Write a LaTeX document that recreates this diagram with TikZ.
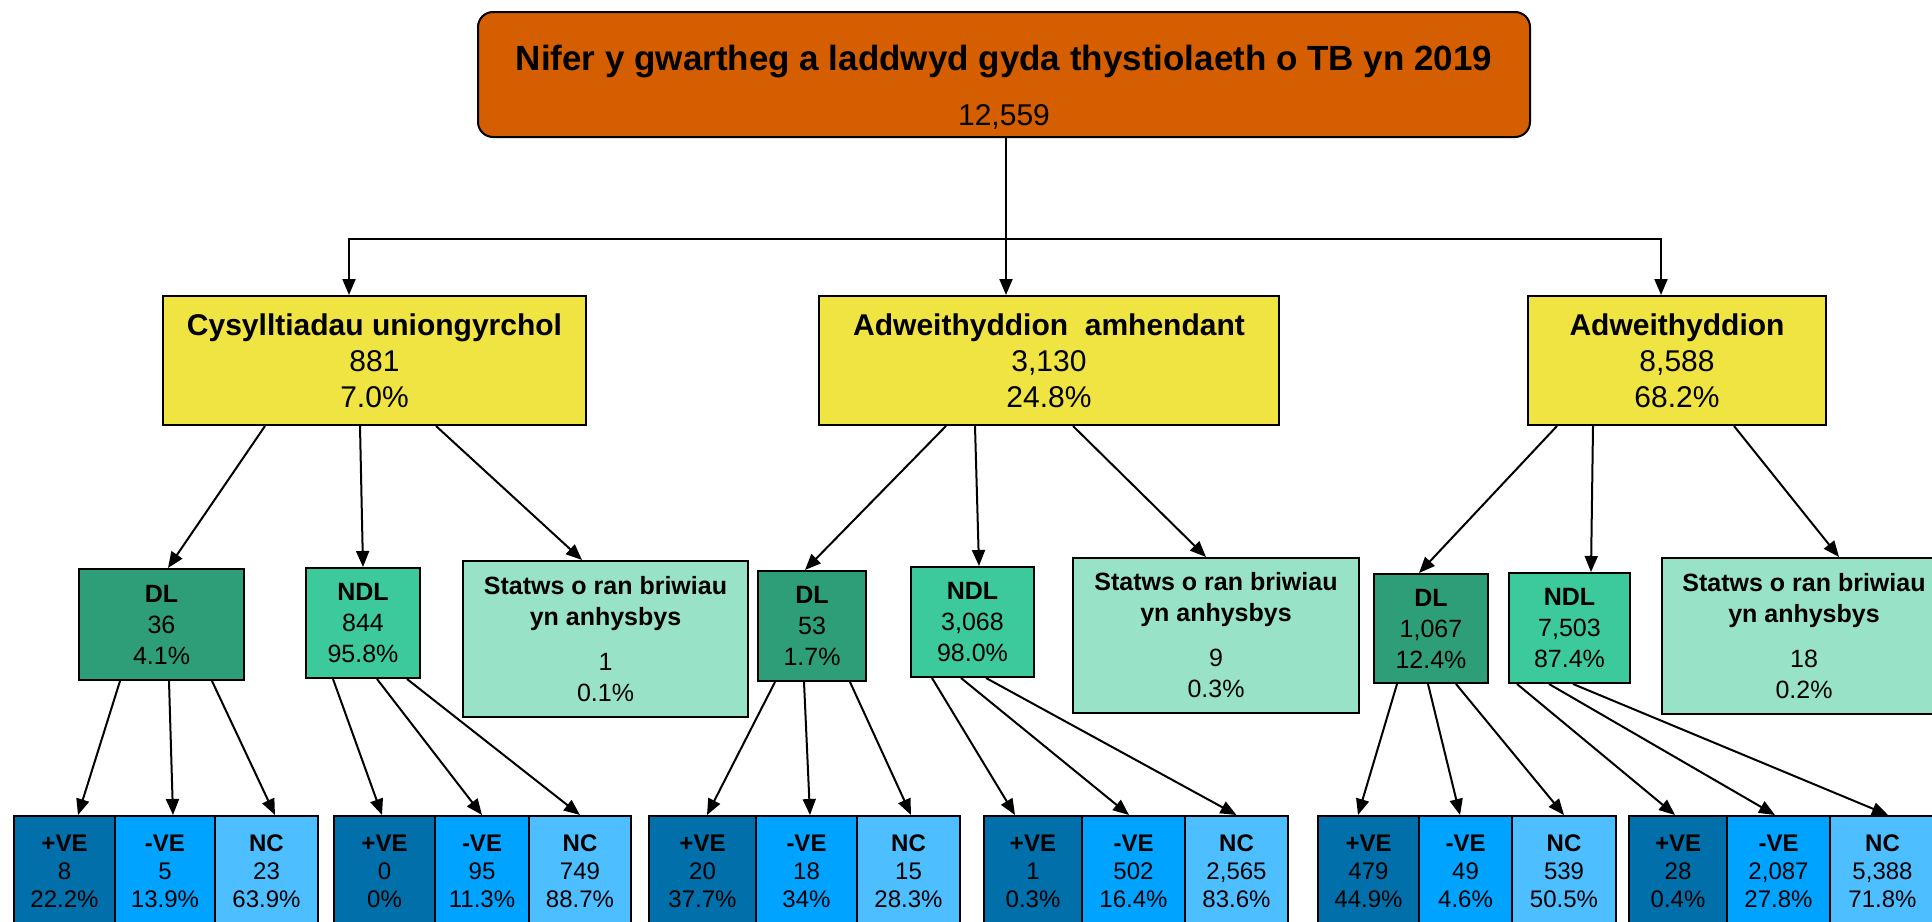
\documentclass[tikz,border=0pt]{standalone}
\usepackage{fontspec}
\setmainfont{Liberation Sans}
\usepackage{xcolor}
\usetikzlibrary{arrows.meta}
\definecolor{topor}{HTML}{D55E00}
\definecolor{catyel}{HTML}{F0E442}
\definecolor{dlgreen}{HTML}{2E9E78}
\definecolor{ndlgreen}{HTML}{3CC99B}
\definecolor{unkgreen}{HTML}{98E2C8}
\definecolor{posblue}{HTML}{006FAA}
\definecolor{negblue}{HTML}{00A3FF}
\definecolor{ncblue}{HTML}{4DBEFF}
\tikzstyle{topbox} = [draw, rounded corners=7.5pt, fill=topor,
    minimum width=526pt, minimum height=62.5pt, align=center,
    font=\fontsize{17.5}{21}\selectfont, line width=1pt, inner sep=0pt]
\tikzstyle{catbox} = [draw, fill=catyel, minimum height=64.5pt, align=center,
    font=\fontsize{15}{18}\selectfont, line width=1pt, inner sep=0pt]
\tikzstyle{dlbox} = [draw, fill=dlgreen, minimum height=55pt, align=center,
    font=\fontsize{12.5}{15.5}\selectfont, line width=1pt, inner sep=0pt]
\tikzstyle{ndlbox} = [draw, fill=ndlgreen, minimum height=55pt, align=center,
    font=\fontsize{12.5}{15.5}\selectfont, line width=1pt, inner sep=0pt]
\tikzstyle{unkbox} = [draw, fill=unkgreen, minimum height=78pt, align=center,
    font=\fontsize{12.5}{15.5}\selectfont, line width=1pt, inner sep=0pt]
\tikzstyle{cell} = [draw, minimum height=55pt, align=center,
    font=\fontsize{12}{14}\selectfont, line width=1pt, inner sep=0pt]
\tikzstyle{posbox} = [cell, fill=posblue]
\tikzstyle{negbox} = [cell, fill=negblue]
\tikzstyle{ncbox} = [cell, fill=ncblue]
\tikzstyle{arr} = [-{Triangle[length=8pt, width=6.5pt]}, line width=1pt, black]
\begin{document}
\begin{tikzpicture}[x=0.5pt, y=-0.5pt]
  \path[use as bounding box, clip] (0,0) rectangle (1932,921);
  \fill[white] (0,0) rectangle (1932,921);

  % Top: total
  \node[topbox] (total) at (1004,74.5) {\rule{0pt}{25.4pt}\textbf{Nifer y gwartheg a laddwyd gyda thystiolaeth o TB yn 2019}\\[6.5pt]{\fontsize{15}{18}\selectfont 12,559}};

  % Level 2: categories
  \node[catbox, minimum width=211.5pt] (direct) at (374.5,360.5) {\textbf{Cysylltiadau uniongyrchol}\\881\\7.0\%};
  \node[catbox, minimum width=230pt] (inconc) at (1049,360.5) {\textbf{Adweithyddion~ amhendant}\\3,130\\24.8\%};
  \node[catbox, minimum width=149pt] (react) at (1677,360.5) {\textbf{Adweithyddion}\\8,588\\68.2\%};

  % Level 3: lesion status
  \node[dlbox, minimum width=82.5pt, minimum height=55.5pt] (dlA) at (161.5,624.5) {\textbf{DL}\\36\\4.1\%};
  \node[ndlbox, minimum width=57pt] (ndlA) at (363,623) {\textbf{NDL}\\844\\95.8\%};
  \node[unkbox, minimum width=142.5pt] (unkA) at (605.5,639) {\textbf{Statws o ran briwiau}\\\textbf{yn anhysbys}\\[7pt]1\\0.1\%};

  \node[dlbox, minimum width=54pt] (dlB) at (812,626) {\textbf{DL}\\53\\1.7\%};
  \node[ndlbox, minimum width=61.5pt] (ndlB) at (972.5,622) {\textbf{NDL}\\3,068\\98.0\%};
  \node[unkbox, minimum width=143pt, minimum height=77.5pt] (unkB) at (1216,635.5) {\textbf{Statws o ran briwiau}\\\textbf{yn anhysbys}\\[7pt]9\\0.3\%};

  \node[dlbox, minimum width=57pt, minimum height=54.5pt] (dlC) at (1431,628.5) {\textbf{DL}\\1,067\\12.4\%};
  \node[ndlbox, minimum width=60.5pt] (ndlC) at (1569.5,628) {\textbf{NDL}\\7,503\\87.4\%};
  \node[unkbox, minimum width=142pt] (unkC) at (1804,636) {\textbf{Statws o ran briwiau}\\\textbf{yn anhysbys}\\[7pt]18\\0.2\%};

  % Level 4: results
  \node[posbox, minimum width=50.5pt] (dlApos) at (64.5,871) {\textbf{+VE}\\8\\22.2\%};
  \node[negbox, minimum width=50pt] (dlAneg) at (165,871) {\textbf{-VE}\\5\\13.9\%};
  \node[ncbox, minimum width=51.5pt] (dlAnc) at (266.5,871) {\textbf{NC}\\23\\63.9\%};

  \node[posbox, minimum width=50.5pt] (ndlApos) at (384.5,871) {\textbf{+VE}\\0\\0\%};
  \node[negbox, minimum width=47pt] (ndlAneg) at (482,871) {\textbf{-VE}\\95\\11.3\%};
  \node[ncbox, minimum width=51pt] (ndlAnc) at (580,871) {\textbf{NC}\\749\\88.7\%};

  \node[posbox, minimum width=53.5pt] (dlBpos) at (702.5,871) {\textbf{+VE}\\20\\37.7\%};
  \node[negbox, minimum width=50.5pt] (dlBneg) at (806.5,871) {\textbf{-VE}\\18\\34\%};
  \node[ncbox, minimum width=51.5pt] (dlBnc) at (908.5,871) {\textbf{NC}\\15\\28.3\%};

  \node[posbox, minimum width=49pt] (ndlBpos) at (1033,871) {\textbf{+VE}\\1\\0.3\%};
  \node[negbox, minimum width=51.5pt] (ndlBneg) at (1133.5,871) {\textbf{-VE}\\502\\16.4\%};
  \node[ncbox, minimum width=51.5pt] (ndlBnc) at (1236.5,871) {\textbf{NC}\\2,565\\83.6\%};

  \node[posbox, minimum width=50.5pt] (dlCpos) at (1368.5,871) {\textbf{+VE}\\479\\44.9\%};
  \node[negbox, minimum width=46.5pt] (dlCneg) at (1465.5,871) {\textbf{-VE}\\49\\4.6\%};
  \node[ncbox, minimum width=52pt] (dlCnc) at (1564,871) {\textbf{NC}\\539\\50.5\%};

  \node[posbox, minimum width=49pt] (ndlCpos) at (1678,871) {\textbf{+VE}\\28\\0.4\%};
  \node[negbox, minimum width=51.5pt] (ndlCneg) at (1778.5,871) {\textbf{-VE}\\2,087\\27.8\%};
  \node[ncbox, minimum width=52.5pt] (ndlCnc) at (1882.5,871) {\textbf{NC}\\5,388\\71.8\%};

  % Arrows: total to categories
  \coordinate (split) at (1006,239);
  \draw[arr] ([xshift=1pt]total.south) -- ([xshift=-21.5pt]inconc.north);
  \draw[arr] (split) -| ([xshift=-12.75pt]direct.north);
  \draw[arr] (split) -| ([xshift=-8pt]react.north);

  % Arrows: categories to lesion status
  \draw[arr] ([xshift=-54.75pt]direct.south) -- ([xshift=3.25pt]dlA.north);
  \draw[arr] ([xshift=-7.25pt]direct.south) -- (ndlA.north);
  \draw[arr] ([xshift=30.75pt]direct.south) -- ([xshift=-11.75pt]unkA.north);
  \draw[arr] ([xshift=-51.5pt]inconc.south) -- ([xshift=-3.5pt]dlB.north);
  \draw[arr] ([xshift=-37pt]inconc.south) -- ([xshift=3.25pt]ndlB.north);
  \draw[arr] ([xshift=12pt]inconc.south) -- ([xshift=-5pt]unkB.north);
  \draw[arr] ([xshift=-60pt]react.south) -- ([xshift=-6pt]dlC.north);
  \draw[arr] ([xshift=-42pt]react.south) -- ([xshift=10.75pt]ndlC.north);
  \draw[arr] ([xshift=28.5pt]react.south) -- ([xshift=17.5pt]unkC.north);

  % Arrows: lesion status to results
  \draw[arr] ([xshift=-20.75pt]dlA.south) -- ([xshift=6.75pt]dlApos.north);
  \draw[arr] ([xshift=3.75pt]dlA.south) -- ([xshift=4pt]dlAneg.north);
  \draw[arr] ([xshift=25.25pt]dlA.south) -- ([xshift=4.25pt]dlAnc.north);
  \draw[arr] ([xshift=-15pt]ndlA.south) -- ([xshift=-1.25pt]ndlApos.north);
  \draw[arr] ([xshift=7pt]ndlA.south) -- (ndlAneg.north);
  \draw[arr] ([xshift=22pt]ndlA.south) -- (ndlAnc.north);
  \draw[arr] ([xshift=-18.5pt]dlB.south) -- ([xshift=2.25pt]dlBpos.north);
  \draw[arr] ([xshift=-4pt]dlB.south) -- ([xshift=1.75pt]dlBneg.north);
  \draw[arr] ([xshift=19pt]dlB.south) -- ([xshift=1.25pt]dlBnc.north);
  \draw[arr] ([xshift=-20.25pt]ndlB.south) -- ([xshift=-9pt]ndlBpos.north);
  \draw[arr] ([xshift=-5.75pt]ndlB.south) -- ([xshift=-2.25pt]ndlBneg.north);
  \draw[arr] ([xshift=6.75pt]ndlB.south) -- (ndlBnc.north);
  \draw[arr] ([xshift=-17pt]dlC.south) -- ([xshift=-5.25pt]dlCpos.north);
  \draw[arr] ([xshift=-1.5pt]dlC.south) -- ([xshift=-2.75pt]dlCneg.north);
  \draw[arr] ([xshift=12.5pt]dlC.south) -- (dlCnc.north);
  \draw[arr] ([xshift=-26.25pt]ndlC.south) -- ([xshift=-1.5pt]ndlCpos.north);
  \draw[arr] ([xshift=-10.25pt]ndlC.south) -- ([xshift=-1.75pt]ndlCneg.north);
  \draw[arr] ([xshift=1.75pt]ndlC.south) -- ([xshift=2.75pt]ndlCnc.north);
\end{tikzpicture}
\end{document}
